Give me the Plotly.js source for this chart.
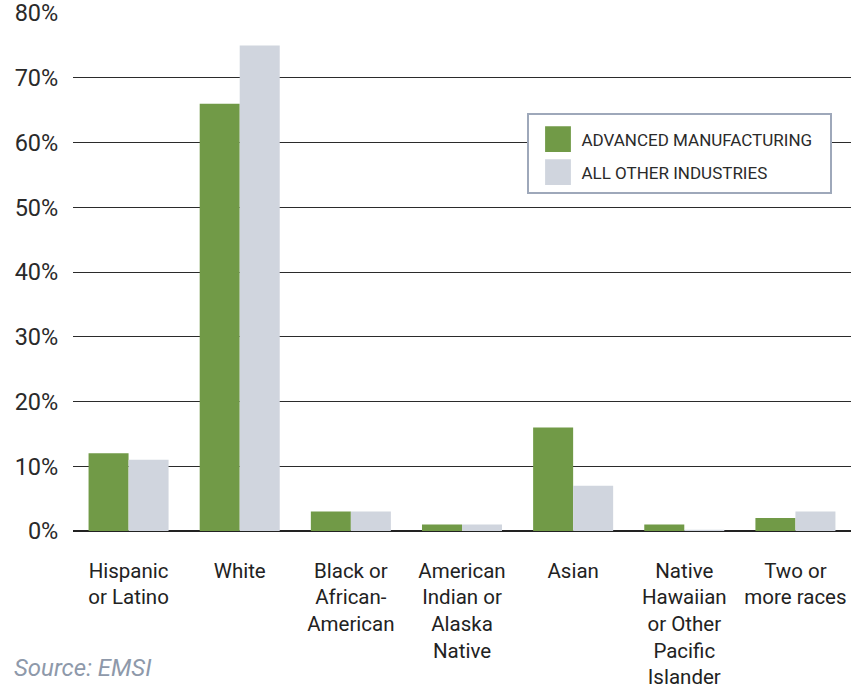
<!DOCTYPE html>
<html>
<head>
<meta charset="utf-8">
<script src="https://cdn.plot.ly/plotly-3.0.1.min.js"></script>
<style>html,body{margin:0;padding:0;background:#fff;}#chart{width:857px;height:690px;}</style>
</head>
<body>
<div id="chart"></div>
<script>
const categories = [
  "Hispanic<br>or Latino",
  "White",
  "Black or<br>African-<br>American",
  "American<br>Indian or<br>Alaska<br>Native",
  "Asian",
  "Native<br>Hawaiian<br>or Other<br>Pacific<br>Islander",
  "Two or<br>more races"
];
const advancedManufacturing = [12, 66, 3, 1, 16, 1, 2];
const allOtherIndustries = [11, 75, 3, 1, 7, 0.2, 3];
const seriesNames = ["ADVANCED MANUFACTURING", "ALL OTHER INDUSTRIES"];
const yTicks = [0, 10, 20, 30, 40, 50, 60, 70, 80];

const traces = [
  {type: "bar", name: seriesNames[0], x: categories, y: advancedManufacturing,
   marker: {color: "#719a47"}, hoverinfo: "y", legendgroup: "a"},
  {type: "bar", name: seriesNames[1], x: categories, y: allOtherIndustries,
   marker: {color: "#d0d5de"}, hoverinfo: "y", legendgroup: "b"}
];

const L = 73, R = 6, T = 13, B = 159;
const PW = 857 - L - R, PH = 690 - T - B;

const layout = {
  width: 857, height: 690,
  margin: {l: L, r: R, t: T, b: B},
  paper_bgcolor: "#fff", plot_bgcolor: "#fff",
  font: {family: "Roboto, 'Liberation Sans', sans-serif", color: "#2a2a2a"},
  barmode: "group",
  bargap: 0.28, bargroupgap: 0,
  showlegend: true,
  legend: {
    x: (527 - L) / PW, y: (531 - 113) / PH, xanchor: "left", yanchor: "top",
    bgcolor: "#fff", bordercolor: "#9ea8ba", borderwidth: 1.5,
    font: {size: 17, color: "#2a2a2a"},
    tracegroupgap: 15, itemwidth: 43
  },
  xaxis: {
    type: "category",
    tickfont: {size: 20.5, color: "#222"},
    ticks: "outside", ticklen: 21, tickcolor: "rgba(0,0,0,0)",
    showline: false, showgrid: false, fixedrange: true
  },
  yaxis: {
    range: [0, 80.02], tickmode: "array", tickvals: yTicks,
    ticktext: yTicks.map(function(v){ return v + "%"; }),
    tickfont: {size: 23.5, color: "#2a2a2a"},
    ticks: "outside", ticklen: 9, tickcolor: "rgba(0,0,0,0)",
    ticklabeloverflow: "allow",
    showgrid: true, gridcolor: "#2b2b2b", gridwidth: 1,
    zeroline: true, zerolinecolor: "#222", zerolinewidth: 1.5,
    showline: false, fixedrange: true
  },
  annotations: [{
    text: "<i>Source: EMSI</i>",
    xref: "paper", yref: "paper",
    x: (12 - L) / PW, y: (531 - 668) / PH, xanchor: "left", yanchor: "middle",
    showarrow: false, font: {size: 24, color: "#8e99aa"}
  }]
};

Plotly.newPlot("chart", traces, layout, {displayModeBar: false, staticPlot: true}).then(function(){
  var root = document.getElementById("chart");
  root.querySelectorAll(".legendpoints path").forEach(function(p){
    p.setAttribute("transform", (p.getAttribute("transform") || "") + " translate(3,0) scale(2.15)");
  });
  var bg = root.querySelector(".legend rect.bg");
  if (bg) { bg.setAttribute("width", 303); bg.setAttribute("height", 79); }
  var groups = root.querySelector(".legend .groups");
  if (groups) { groups.setAttribute("transform", (groups.getAttribute("transform") || "") + " translate(0,7)"); }
  root.querySelectorAll("clipPath[id*='legend'] rect").forEach(function(r){
    r.setAttribute("width", 303); r.setAttribute("height", 79);
  });
});
</script>
</body>
</html>
